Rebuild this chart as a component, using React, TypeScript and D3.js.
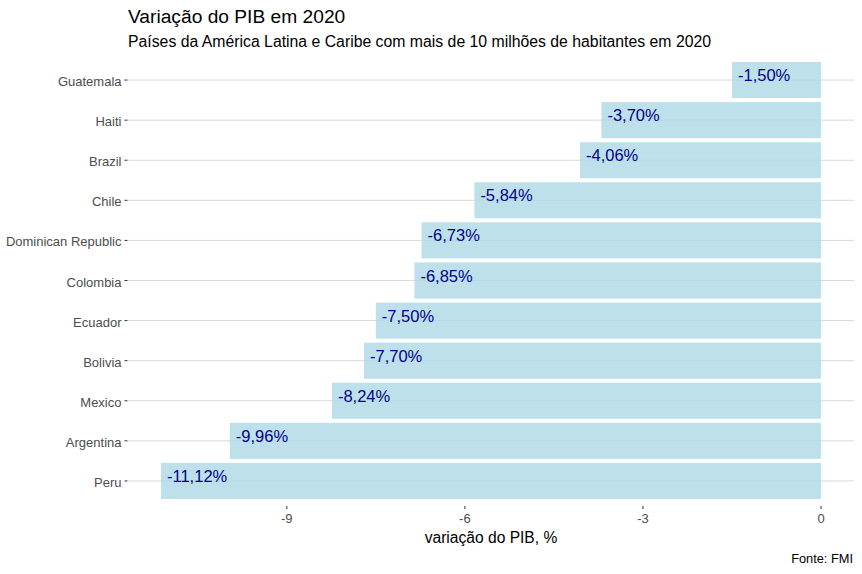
import React from "react";
import * as d3 from "d3";

const countries = ["Guatemala", "Haiti", "Brazil", "Chile", "Dominican Republic", "Colombia", "Ecuador", "Bolivia", "Mexico", "Argentina", "Peru"];
const gdpChange = [-1.5, -3.7, -4.06, -5.84, -6.73, -6.85, -7.5, -7.7, -8.24, -9.96, -11.12];
const xTicks = [-9, -6, -3, 0];

const W = 862, H = 574;
const left = 128, right = 854, top = 56, bottom = 505;
const font = "'Liberation Sans', Arial, sans-serif";

export default function App() {
  const minV = d3.min(gdpChange) as number;
  const pad = (0 - minV) * 0.05;
  const x = d3.scaleLinear().domain([minV - pad, 0 + pad]).range([left, right]);
  const y = d3.scaleBand().domain(countries).range([top, bottom]).paddingInner(0.1).paddingOuter(0.15);
  const fmt = (v: number) => v.toFixed(2).replace(".", ",") + "%";
  return (
    <svg width={W} height={H} style={{ position: "absolute", left: 0, top: 0, background: "#fff" }} fontFamily={font}>
      <text x={128} y={23} fontSize={19.2} fill="#000">Variação do PIB em 2020</text>
      <text x={128} y={47} fontSize={15.8} fill="#000">Países da América Latina e Caribe com mais de 10 milhões de habitantes em 2020</text>
      {countries.map((c) => {
        const cy = (y(c) as number) + y.bandwidth() / 2;
        return (
          <g key={"g" + c}>
            <line x1={left} x2={right} y1={cy} y2={cy} stroke="#d9d9d9" strokeWidth={1} />
            <line x1={left - 3.5} x2={left - 0.5} y1={cy} y2={cy} stroke="#333" strokeWidth={1} />
            <text x={left - 6.5} y={cy + 6} textAnchor="end" fontSize={13} fill="#4d4d4d">{c}</text>
          </g>
        );
      })}
      {countries.map((c, i) => {
        const v = gdpChange[i];
        return (
          <rect key={"b" + c} x={x(v)} width={x(0) - x(v)} y={y(c) as number} height={y.bandwidth()} fill="#ADD8E6" fillOpacity={0.8} />
        );
      })}
      {countries.map((c, i) => {
        const v = gdpChange[i];
        const cy = (y(c) as number) + y.bandwidth() / 2;
        return (
          <text key={"l" + c} x={x(v) + 6} y={cy + 1} fontSize={16.5} fill="#00008B">{fmt(v)}</text>
        );
      })}
      {xTicks.map((t) => (
        <g key={"t" + t}>
          <line x1={x(t)} x2={x(t)} y1={bottom + 1} y2={bottom + 4} stroke="#333" strokeWidth={1} />
          <text x={x(t)} y={bottom + 18} textAnchor="middle" fontSize={13} fill="#4d4d4d">{t}</text>
        </g>
      ))}
      <text x={(left + right) / 2} y={543} textAnchor="middle" fontSize={15.6} fill="#000">variação do PIB, %</text>
      <text x={853} y={563} textAnchor="end" fontSize={12.8} fill="#000">Fonte: FMI</text>
    </svg>
  );
}
